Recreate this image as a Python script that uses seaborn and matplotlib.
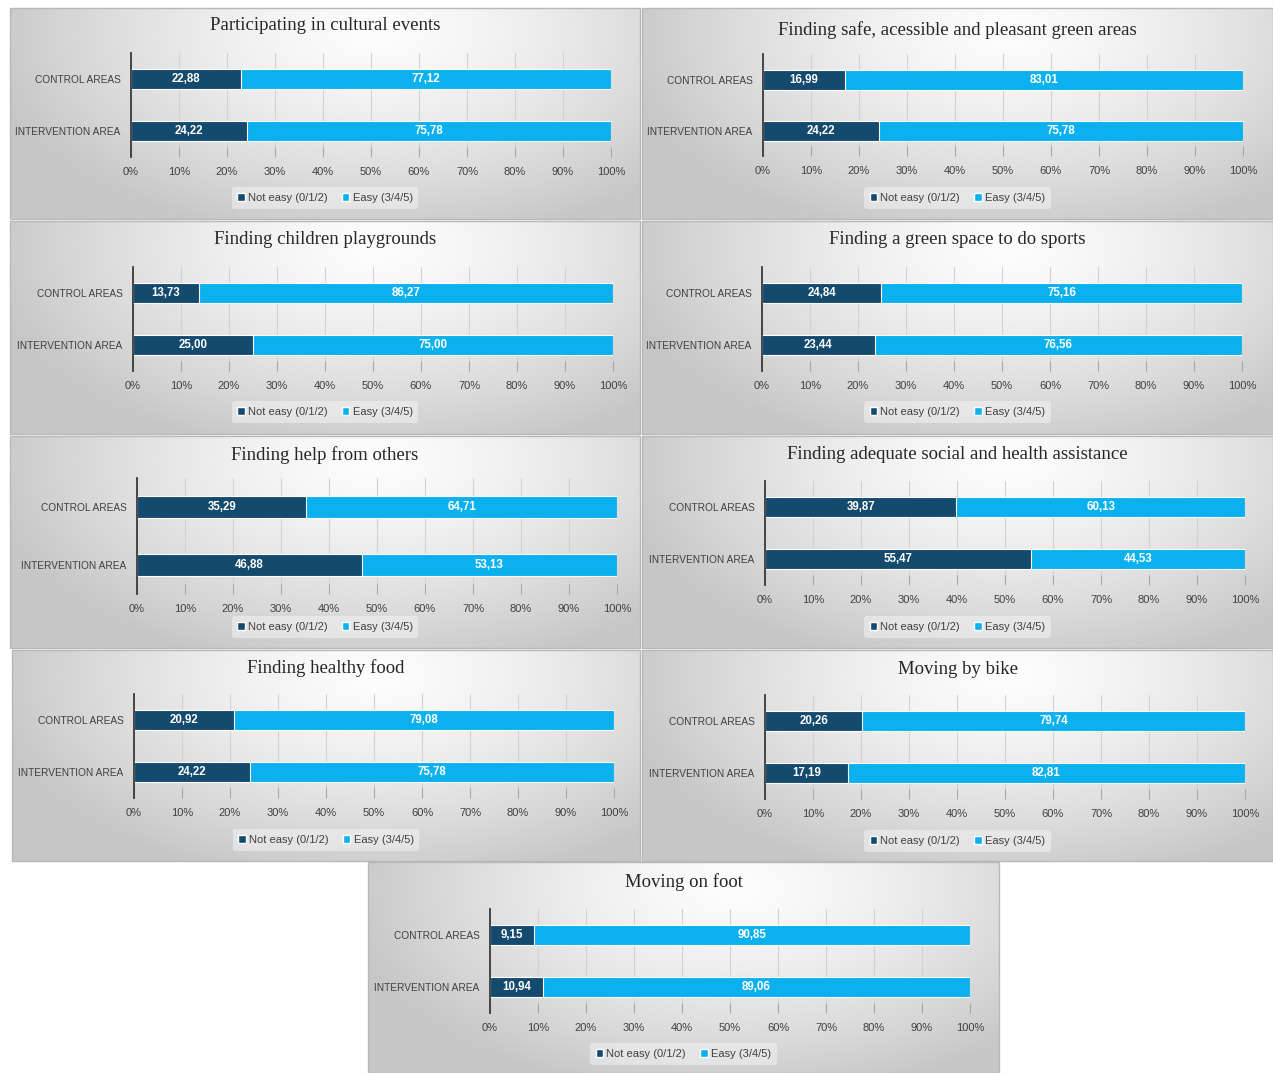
import numpy as np
import pandas as pd
import matplotlib
matplotlib.use("Agg")
import matplotlib.pyplot as plt
from matplotlib.patches import Patch, Rectangle
import seaborn as sns

# ---- data -------------------------------------------------------------
titles = [
    "Participating in cultural events",
    "Finding safe, acessible and pleasant green areas",
    "Finding children playgrounds",
    "Finding a green space to do sports",
    "Finding help from others",
    "Finding adequate social and health assistance",
    "Finding healthy food",
    "Moving by bike",
    "Moving on foot",
]
areas = ["CONTROL AREAS", "INTERVENTION AREA"]
series_labels = ["Not easy (0/1/2)", "Easy (3/4/5)"]

not_easy_control = [22.88, 16.99, 13.73, 24.84, 35.29, 39.87, 20.92, 20.26, 9.15]
easy_control = [77.12, 83.01, 86.27, 75.16, 64.71, 60.13, 79.08, 79.74, 90.85]
not_easy_intervention = [24.22, 24.22, 25.00, 23.44, 46.88, 55.47, 24.22, 17.19, 10.94]
easy_intervention = [75.78, 75.78, 75.00, 76.56, 53.13, 44.53, 75.78, 82.81, 89.06]

x_ticks = [0, 10, 20, 30, 40, 50, 60, 70, 80, 90, 100]
x_tick_labels = [f"{t}%" for t in x_ticks]

# ---- layout (pixels, top-down) ----------------------------------------
# panel box, axis x (0%), axis x (100%), bar centres, tick-label y, legend y, title y
layouts = [
    ((10, 8, 640, 219), 131, 611, 79, 131, 172, 198, 26),
    ((642, 8, 1273, 219), 763, 1243, 80, 131, 172, 198, 30),
    ((10, 221, 640, 434), 133, 613, 293, 345, 386, 412, 240),
    ((642, 221, 1273, 434), 762, 1242, 293, 345, 386, 412, 240),
    ((10, 436, 640, 648), 137, 617, 507, 565, 609, 627, 455),
    ((642, 436, 1273, 648), 765, 1245, 507, 559, 601, 627, 455),
    ((12, 650, 640, 861), 134, 614, 720, 772, 813, 840, 668),
    ((642, 650, 1273, 861), 765, 1245, 721, 773, 815, 841, 669),
    ((368, 862, 999, 1073), 490, 970, 935, 987, 1028, 1054, 882),
]

DARK = "#144a6e"
LIGHT = "#0bb0ee"
TEXT = "#404040"

sns.set_theme(style="white")
plt.rcParams["font.family"] = ["Liberation Sans Narrow", "Liberation Sans", "DejaVu Sans"]

W, H = 1273, 1073
fig = plt.figure(figsize=(W / 100, H / 100), dpi=100)
fig.patch.set_facecolor("white")


def fx(x):
    return x / W


def fy(y):
    return 1 - y / H


# soft radial gradient used as the panel background
gy, gx = np.mgrid[0:1:220j, 0:1:440j]
r = np.sqrt(((gx - 0.58) / 0.62) ** 2 + ((gy - 0.12) / 1.0) ** 2)
shade = 0.99 - 0.21 * np.clip(r, 0, 1) ** 1.4
gradient = np.dstack([shade] * 3)


def fmt(v):
    return f"{v:.2f}".replace(".", ",")


for i, (panel, ax_l, ax_r, ct, cb, tick_y, leg_y, title_y) in enumerate(layouts):
    x0, y0, x1, y1 = panel
    cx = (x0 + x1) / 2

    bg = fig.add_axes([fx(x0), fy(y1), (x1 - x0) / W, (y1 - y0) / H], zorder=0)
    bg.imshow(gradient, aspect="auto", extent=(0, 1, 0, 1), origin="upper",
              interpolation="bilinear")
    bg.set_axis_off()
    bg.add_patch(Rectangle((0, 0), 1, 1, transform=bg.transAxes, fill=False,
                           edgecolor="#b8b8b8", lw=1.0, clip_on=False))

    spacing = cb - ct
    top = ct - spacing / 2
    bottom = cb + spacing / 2
    ax = fig.add_axes([fx(ax_l), fy(bottom), (ax_r - ax_l) / W, (bottom - top) / H],
                      zorder=1)
    ax.patch.set_alpha(0)

    df = pd.DataFrame({
        "area": areas,
        "not_easy": [not_easy_control[i], not_easy_intervention[i]],
        "easy": [easy_control[i], easy_intervention[i]],
    })
    df["cumulative"] = df["not_easy"] + df["easy"]

    sns.barplot(data=df, y="area", x="cumulative", color=LIGHT, saturation=1,
                width=0.39, edgecolor="white", linewidth=0.8, errorbar=None, ax=ax)
    sns.barplot(data=df, y="area", x="not_easy", color=DARK, saturation=1,
                width=0.39, edgecolor="white", linewidth=0.8, errorbar=None, ax=ax)

    for j, row in df.iterrows():
        ax.text(row["not_easy"] / 2, j, fmt(row["not_easy"]), ha="center", va="center",
                color="white", fontsize=8.3, fontweight="bold")
        ax.text(row["not_easy"] + row["easy"] / 2, j, fmt(row["easy"]), ha="center",
                va="center", color="white", fontsize=8.3, fontweight="bold")

    ax.set_xlim(0, 100)
    ax.set_ylim(1.5, -0.5)
    ax.set_xticks(x_ticks)
    ax.set_xticklabels(x_tick_labels)
    ax.set_xlabel("")
    ax.set_ylabel("")
    ax.set_axisbelow(True)
    ax.xaxis.grid(True, color="#d2d2d2", lw=0.8)
    ax.tick_params(axis="x", direction="in", length=7, width=0.8, color="#a8a8a8",
                   labelsize=8, labelcolor=TEXT, pad=7, bottom=True)
    ax.tick_params(axis="y", length=0, labelsize=7.3, labelcolor=TEXT, pad=7.5)
    for side in ("top", "right", "bottom"):
        ax.spines[side].set_visible(False)
    ax.spines["left"].set_color("#3a3a3a")
    ax.spines["left"].set_linewidth(1.3)

    fig.text(fx(cx), fy(title_y), titles[i], ha="center", va="center", fontsize=13.5,
             family=["Liberation Serif", "DejaVu Serif"], color="#262626")

    handles = [Patch(facecolor=DARK), Patch(facecolor=LIGHT)]
    leg = fig.legend(handles, series_labels, loc="center",
                     bbox_to_anchor=(fx(cx), fy(leg_y)), ncol=2, frameon=True,
                     fontsize=8, handlelength=0.65, handleheight=0.65,
                     handletextpad=0.3, columnspacing=1.3, borderpad=0.5,
                     labelcolor=TEXT)
    leg.get_frame().set_facecolor("#f6f6f6")
    leg.get_frame().set_alpha(0.5)
    leg.get_frame().set_edgecolor("none")

fig.savefig("out.png", dpi=100, facecolor="white")
